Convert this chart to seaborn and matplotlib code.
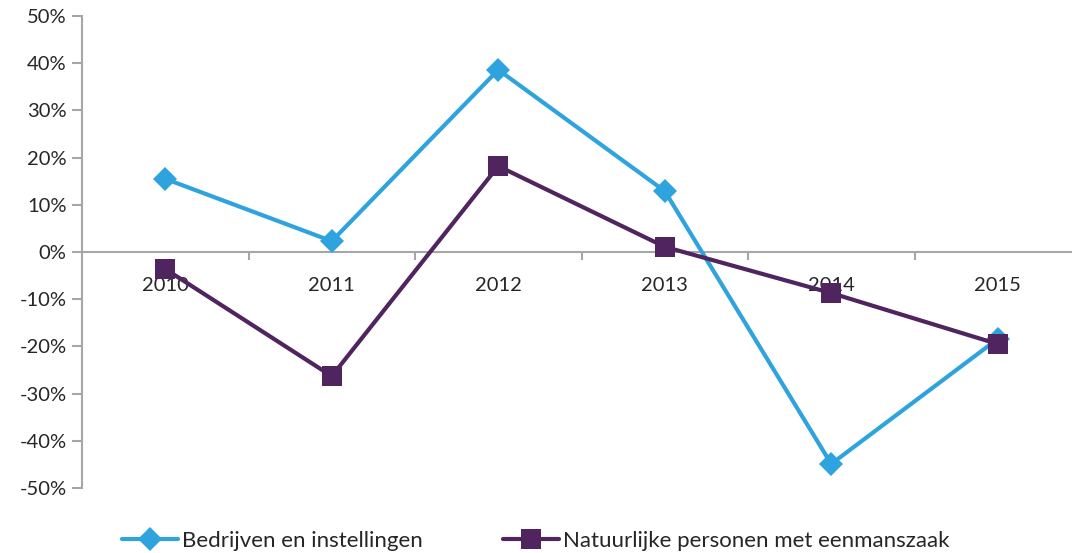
import numpy as np
import pandas as pd
import matplotlib
matplotlib.use("Agg")
import matplotlib.pyplot as plt
import seaborn as sns
from matplotlib.ticker import FuncFormatter, FixedLocator

# ---------------------------------------------------------------------------
# data (percent)
# ---------------------------------------------------------------------------
years = ["2010", "2011", "2012", "2013", "2014", "2015"]
bedrijven = [15.5, 2.3, 38.6, 12.9, -44.9, -18.4]
natuurlijke = [-3.6, -26.3, 18.2, 1.1, -8.7, -19.5]
series_names = ["Bedrijven en instellingen",
                "Natuurlijke personen met eenmanszaak"]

df = pd.DataFrame({
    "jaar": list(range(len(years))) * 2,
    "waarde": bedrijven + natuurlijke,
    "reeks": [series_names[0]] * len(years) + [series_names[1]] * len(years),
})

BLUE = "#2EA3DD"
PURPLE = "#50245E"
GREY = "#A6A6A6"

sns.set_style("white")
plt.rcParams["font.family"] = ["Lato", "DejaVu Sans"]

fig = plt.figure(figsize=(10.72, 5.53), dpi=100)
ax = fig.add_axes([0.0765, 0.1175, 0.9319, 0.8536])

sns.lineplot(data=df, x="jaar", y="waarde", hue="reeks", style="reeks",
             palette={series_names[0]: BLUE, series_names[1]: PURPLE},
             markers={series_names[0]: "D", series_names[1]: "s"},
             dashes=False, linewidth=3, markersize=14, markeredgewidth=0,
             ax=ax, legend=True, clip_on=False, zorder=3)

# diamonds a bit smaller than the squares
for line in ax.lines:
    if line.get_marker() == "D":
        line.set_markersize(12.5)
    elif line.get_marker() == "s":
        line.set_markersize(15)

ax.set_xlim(-0.5, 5.5)
ax.set_ylim(-50, 50)
ax.set_xlabel("")
ax.set_ylabel("")

# spines
for s in ["top", "right"]:
    ax.spines[s].set_visible(False)
ax.spines["left"].set_color(GREY)
ax.spines["left"].set_linewidth(1.5)
ax.spines["bottom"].set_position(("data", 0))
ax.spines["bottom"].set_color(GREY)
ax.spines["bottom"].set_linewidth(1.5)
ax.spines["bottom"].set_zorder(1)

# y axis
ax.yaxis.set_major_locator(FixedLocator(np.arange(-50, 51, 10)))
ax.yaxis.set_major_formatter(FuncFormatter(lambda v, p: f"{v:.0f}%"))
ax.tick_params(axis="y", direction="out", length=7, width=1.5, color=GREY,
               labelsize=14.5, pad=4, left=True)

# x axis: labels at categories, tick marks at boundaries
ax.set_xticks(range(len(years)))
ax.set_xticklabels(years)
ax.set_xticks(np.arange(0.5, len(years) - 0.5, 1), minor=True)
ax.tick_params(axis="x", which="major", length=0, labelsize=14.5, pad=18)
ax.tick_params(axis="x", which="minor", direction="out", length=6,
               width=1.5, color=GREY, bottom=True)
for lbl in ax.get_xticklabels():
    lbl.set_zorder(5)

# legend at the bottom
handles, labels = ax.get_legend_handles_labels()
ax.legend_.remove()
fig.legend(handles, labels, loc="center", bbox_to_anchor=(0.5, 0.022),
           ncol=2, frameon=False, fontsize=16, handlelength=2.5,
           columnspacing=3.6, handletextpad=0.2)

fig.savefig("out.png", dpi=100)
